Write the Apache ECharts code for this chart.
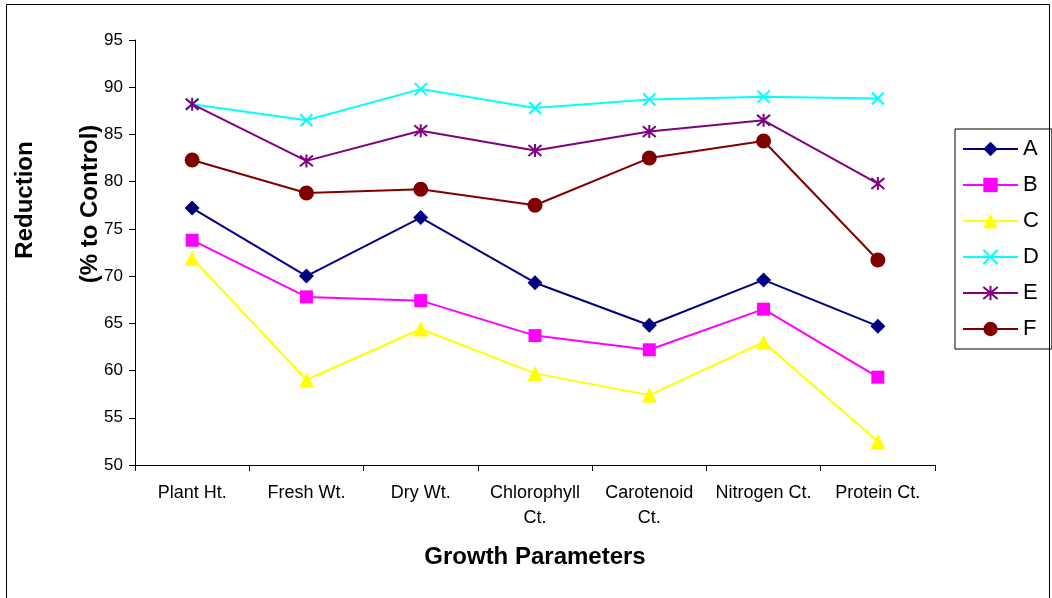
<!DOCTYPE html>
<html>
<head>
<meta charset="utf-8">
<script src="https://cdn.jsdelivr.net/npm/echarts@6/dist/echarts.min.js"></script>
<style>
  html, body { margin: 0; padding: 0; background: #fff; }
  #main { width: 1052px; height: 598px; }
</style>
</head>
<body>
<div id="main"></div>
<script>
var categories = ['Plant Ht.', 'Fresh Wt.', 'Dry Wt.', 'Chlorophyll Ct.', 'Carotenoid Ct.', 'Nitrogen Ct.', 'Protein Ct.'];
var seriesA = [77.2, 70.0, 76.2, 69.3, 64.8, 69.6, 64.7];
var seriesB = [73.8, 67.8, 67.4, 63.7, 62.2, 66.5, 59.3];
var seriesC = [71.9, 59.0, 64.4, 59.7, 57.4, 63.0, 52.5];
var seriesD = [88.2, 86.5, 89.8, 87.8, 88.7, 89.0, 88.8];
var seriesE = [88.2, 82.2, 85.4, 83.3, 85.3, 86.5, 79.8];
var seriesF = [82.3, 78.8, 79.2, 77.5, 82.5, 84.3, 71.7];
var yTicks = [50, 55, 60, 65, 70, 75, 80, 85, 90, 95];

var crossPath = 'path://M0,0L10,10M10,0L0,10';
var starPath = 'path://M0,0L10,10M10,0L0,10M5,-1L5,11';

function line(name, data, color, symbol, size, stroke) {
  var s = {
    name: name,
    type: 'line',
    data: data,
    symbol: symbol,
    symbolSize: size,
    lineStyle: { color: color, width: 2 },
    itemStyle: { color: color },
    emphasis: { disabled: true }
  };
  if (stroke) {
    s.itemStyle = { color: 'transparent', borderColor: color, borderWidth: 2 };
  }
  return s;
}

var myChart = echarts.init(document.getElementById('main'));
var option = {
  backgroundColor: '#fff',
  animation: false,
  textStyle: { fontFamily: 'Liberation Sans, Arial, sans-serif' },
  grid: { left: 135, right: 117, top: 40, bottom: 133 },
  legend: {
    orient: 'vertical',
    left: 955,
    top: 129,
    padding: [9, 13, 9, 7],
    borderColor: '#000',
    borderWidth: 1,
    itemWidth: 55,
    itemHeight: 18,
    itemGap: 14,
    textStyle: { fontSize: 22, lineHeight: 22, color: '#000' },
    data: ['A', 'B', 'C', 'D', 'E', 'F']
  },
  xAxis: {
    type: 'category',
    data: categories,
    boundaryGap: true,
    axisLine: { lineStyle: { color: '#000', width: 1 } },
    axisTick: { show: true, inside: false, length: 6, lineStyle: { color: '#000', width: 1 } },
    axisLabel: {
      color: '#000',
      fontSize: 18,
      margin: 16,
      lineHeight: 25,
      interval: 0,
      formatter: function (v) {
        if (v === 'Chlorophyll Ct.' || v === 'Carotenoid Ct.') return v.replace(' Ct.', '\nCt.');
        return v;
      }
    },
    name: 'Growth Parameters',
    nameLocation: 'middle',
    nameGap: 80,
    nameTextStyle: { fontSize: 24, fontWeight: 'bold', color: '#000' }
  },
  yAxis: {
    type: 'value',
    min: yTicks[0],
    max: yTicks[yTicks.length - 1],
    interval: 5,
    splitLine: { show: false },
    axisLine: { show: true, lineStyle: { color: '#000', width: 1 } },
    axisTick: { show: true, inside: false, length: 6, lineStyle: { color: '#000', width: 1 } },
    axisLabel: { color: '#000', fontSize: 17, margin: 12 }
  },
  graphic: [
    {
      type: 'rect',
      shape: { x: 6.5, y: 4.5, width: 1043, height: 600 },
      style: { fill: 'none', stroke: '#000', lineWidth: 1 },
      silent: true
    },
    {
      type: 'text',
      x: 25, y: 200, rotation: Math.PI / 2,
      style: { text: 'Reduction', font: 'bold 24px Liberation Sans, Arial, sans-serif', fill: '#000', align: 'center', verticalAlign: 'middle' }
    },
    {
      type: 'text',
      x: 90, y: 204, rotation: Math.PI / 2,
      style: { text: '(% to Control)', font: 'bold 24px Liberation Sans, Arial, sans-serif', fill: '#000', align: 'center', verticalAlign: 'middle' }
    }
  ],
  series: [
    line('A', seriesA, '#000080', 'diamond', 15),
    line('B', seriesB, '#ff00ff', 'rect', 13),
    line('C', seriesC, '#ffff00', 'triangle', 15),
    line('D', seriesD, '#00ffff', crossPath, 12, true),
    line('E', seriesE, '#800080', starPath, 13, true),
    line('F', seriesF, '#800000', 'circle', 15)
  ]
};
myChart.setOption(option);

window.addEventListener('resize', function () {
  myChart.resize();
});
</script>
</body>
</html>
